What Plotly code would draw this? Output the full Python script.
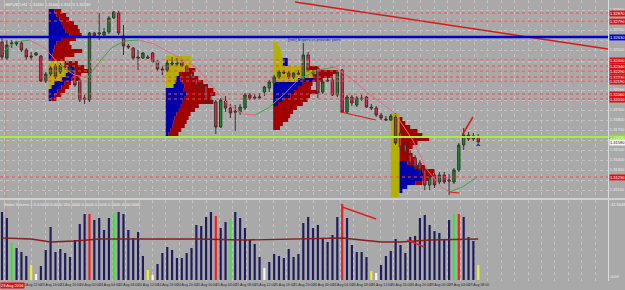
import plotly.graph_objects as go

# ---------------- DATA ----------------
opens = [1.3258,1.3242,1.3256,1.3256,1.3257,1.3250,1.3244,1.3245,1.3244,1.3219,
         1.3226,1.3234,1.3228,1.3234,1.3228,1.3230,1.3220,1.3202,1.3200,1.3267,
         1.3266,1.3265,1.3268,1.3282,1.3287,1.3264,1.3254,1.3252,1.3243,1.3242,
         1.3243,1.3247,1.3239,1.3231,1.3230,1.3237,1.3236,1.3238,1.3234,1.3227,
         1.3221,1.3215,1.3214,1.3200,1.3198,1.3173,1.3199,1.3192,1.3189,1.3188,
         1.3192,1.3205,1.3203,1.3202,1.3208,1.3212,1.3217,1.3223,1.3228,1.3227,
         1.3223,1.3227,1.3220,1.3245,1.3228,1.3232,1.3208,1.3220,1.3220,1.3205,
         1.3230,1.3188,1.3203,1.3195,1.3202,1.3203,1.3193,1.3192,1.3185,1.3181,
         1.3180,1.3183,1.3167,1.3155,1.3145,1.3142,1.3137,1.3130,1.3115,1.3125,
         1.3118,1.3125,1.3120,1.3118,1.3130,1.3155,1.3165,1.3164,1.3163]
highs = [1.3262,1.3260,1.3260,1.3259,1.3259,1.3252,1.3248,1.3248,1.3245,1.3228,
         1.3234,1.3236,1.3237,1.3237,1.3234,1.3232,1.3222,1.3205,1.3268,1.3268,
         1.3287,1.3272,1.3284,1.3289,1.3289,1.3275,1.3256,1.3253,1.3250,1.3248,
         1.3245,1.3248,1.3240,1.3234,1.3240,1.3243,1.3242,1.3240,1.3235,1.3228,
         1.3223,1.3220,1.3216,1.3204,1.3200,1.3202,1.3204,1.3196,1.3195,1.3196,
         1.3207,1.3207,1.3206,1.3207,1.3214,1.3220,1.3225,1.3230,1.3230,1.3229,
         1.3228,1.3230,1.3257,1.3248,1.3230,1.3234,1.3220,1.3222,1.3224,1.3230,
         1.3231,1.3205,1.3205,1.3204,1.3205,1.3204,1.3196,1.3194,1.3187,1.3184,
         1.3186,1.3187,1.3170,1.3158,1.3150,1.3145,1.3140,1.3132,1.3125,1.3127,
         1.3128,1.3128,1.3126,1.3132,1.3157,1.3172,1.3168,1.3167,1.3166]
lows = [1.3240,1.3240,1.3252,1.3254,1.3248,1.3240,1.3240,1.3244,1.3218,1.3217,
        1.3224,1.3221,1.3226,1.3230,1.3226,1.3213,1.3198,1.3196,1.3198,1.3263,
        1.3260,1.3263,1.3266,1.3281,1.3265,1.3245,1.3251,1.3240,1.3230,1.3241,
        1.3241,1.3237,1.3229,1.3225,1.3228,1.3234,1.3234,1.3233,1.3226,1.3220,
        1.3212,1.3207,1.3198,1.3196,1.3166,1.3172,1.3188,1.3182,1.3169,1.3185,
        1.3190,1.3200,1.3200,1.3201,1.3204,1.3208,1.3215,1.3221,1.3226,1.3221,
        1.3221,1.3225,1.3218,1.3228,1.3224,1.3202,1.3206,1.3218,1.3204,1.3203,
        1.3187,1.3187,1.3194,1.3193,1.3199,1.3192,1.3190,1.3183,1.3180,1.3179,
        1.3179,1.3155,1.3150,1.3145,1.3134,1.3130,1.3125,1.3110,1.3110,1.3112,
        1.3116,1.3116,1.3105,1.3116,1.3128,1.3150,1.3159,1.3159,1.3157]
closes = [1.3243,1.3255,1.3257,1.3258,1.3250,1.3243,1.3243,1.3247,1.3219,1.3226,
          1.3232,1.3223,1.3235,1.3233,1.3232,1.3215,1.3200,1.3201,1.3267,1.3264,
          1.3267,1.3268,1.3282,1.3288,1.3267,1.3254,1.3253,1.3242,1.3242,1.3247,
          1.3242,1.3238,1.3231,1.3230,1.3237,1.3236,1.3237,1.3234,1.3228,1.3222,
          1.3215,1.3214,1.3200,1.3199,1.3173,1.3200,1.3192,1.3187,1.3188,1.3193,
          1.3205,1.3202,1.3202,1.3203,1.3213,1.3218,1.3223,1.3228,1.3227,1.3223,
          1.3227,1.3226,1.3245,1.3230,1.3227,1.3207,1.3218,1.3219,1.3205,1.3228,
          1.3188,1.3203,1.3197,1.3202,1.3201,1.3193,1.3192,1.3185,1.3182,1.3180,
          1.3184,1.3157,1.3153,1.3148,1.3137,1.3133,1.3130,1.3115,1.3123,1.3115,
          1.3125,1.3118,1.3119,1.3130,1.3155,1.3165,1.3161,1.3161,1.3158]

volumes = [6800,6200,3700,3200,2800,2400,1500,600,1400,3000,
           5300,2800,3100,2700,2300,4000,5600,6600,6600,6000,
           6200,5000,6200,6700,6800,6600,5000,4200,4800,2400,
           1000,500,1600,2700,3300,3000,2200,2200,2700,3200,
           5500,5400,6300,6800,6400,5200,5800,6100,6800,6200,
           5200,4000,3600,2300,1200,1800,2600,2400,2200,3100,
           2300,2600,5700,6300,5200,5500,4200,3800,4500,6300,
           7600,6200,3500,2800,2800,2300,900,700,1500,2400,
           2900,4100,3500,2700,4300,4400,6200,6500,5500,4900,
           4700,4100,6000,6600,6600,6300,4300,3900,1500]
# Better-Volume class of each bar: n normal, g green, r red, y yellow, w white
vol_class = ['n','n','g','n','n','n','y','w','n','n',
             'n','n','n','n','n','n','n','n','r','n',
             'n','n','n','g','n','n','n','n','n','n',
             'y','w','n','n','n','n','n','n','n','n',
             'n','n','n','n','r','n','n','g','n','n',
             'n','n','n','n','w','n','n','n','n','n',
             'n','n','n','n','n','n','n','n','n','n',
             'r','n','n','n','n','n','y','w','n','n',
             'n','n','n','n','n','n','n','n','n','n',
             'n','n','n','g','r','n','n','n','y']
vol_ma_bar = [0,6,10,15,20,30,40,50,60,65,70,74,78,82,88,98]
vol_ma_val = [4200,4100,3800,3900,4100,4100,4100,4000,4100,4200,4200,4000,3800,3800,4000,4100]

# moving-average curve on price (bar, price)
ma_bar = [0.2,2.7,5.7,8.8,11.9,14.9,17.6,20.0,22.5,25.2,28.2,31.3,35.4,39.9,44.0,46.6,49.7,52.1,
          54.8,57.9,60.9,65.0,68.5,72.2,75.3,80.8,84.5,87.5,90.6,92.0,94.7,97.8]
ma_price = [1.3248,1.3258,1.3260,1.3252,1.3235,1.3225,1.3222,1.3238,1.3252,1.3259,1.3260,1.3256,
            1.3245,1.3233,1.3210,1.3195,1.3186,1.3185,1.3192,1.3205,1.3220,1.3230,1.3233,1.3220,
            1.3207,1.3187,1.3160,1.3130,1.3112,1.3108,1.3113,1.3123]

# volume profiles: start bar, price levels, TPO lengths (bars) per colour
p1_start = 9.6
p1_levels = [1.3289,1.3285,1.3281,1.3277,1.3273,1.3269,1.3265,1.3261,1.3257,1.3253,1.3249,1.3245,
             1.3241,1.3237,1.3233,1.3229,1.3225,1.3221,1.3217,1.3213,1.3209,1.3205,1.3201]
p1_yel = [0,0,0,0,0,0,0,0,0,0,0,0,0,3.3,3.9,3.9,3.5,2.7,1.2,0.6,0,0,0]
p1_blu = [1.2,1.6,2.2,2.7,3.1,3.5,4.3,2.7,1.6,1.2,1.0,0.8,0.6,0,1.4,1.6,1.6,2.0,2.0,2.0,1.8,1.2,0.6]
p1_red = [1.4,2.0,2.0,2.5,2.9,2.9,2.5,2.9,2.7,3.5,5.9,4.5,2.7,2.7,2.0,3.3,1.6,1.6,1.4,1.6,1.6,1.4,1.0]

p2_start = 33.7
p2_levels = [1.3242,1.3238,1.3234,1.3230,1.3226,1.3222,1.3218,1.3214,1.3210,1.3206,1.3202,1.3198,
             1.3194,1.3190,1.3186,1.3182,1.3178,1.3174,1.3170,1.3166]
p2_yel = [5.1,5.3,5.3,4.7,2.7,2.2,2.0,1.6,0,0,0,0,0,0,0,0,0,0,0,0]
p2_blu = [0,0,0,0,0,0.8,1.4,2.2,3.7,4.3,3.9,3.5,3.1,2.7,2.2,1.8,1.6,1.4,1.0,0.6]
p2_red = [0,0,0,1.4,3.1,3.7,4.3,4.9,6.1,5.9,5.3,6.3,3.7,3.3,2.9,2.9,2.7,2.5,2.2,2.0]

p3_start = 55.8
p3_levels = [1.3256,1.3252,1.3248,1.3244,1.3240,1.3236,1.3232,1.3228,1.3224,1.3220,1.3216,1.3212,
             1.3208,1.3204,1.3200,1.3196,1.3192,1.3188,1.3184,1.3180,1.3176,1.3172]
p3_yel = [1.0,1.4,1.6,1.8,2.0,2.0,7.1,8.8,8.2,5.1,0,0,0,0,0,0,0,0,0,0,0,0]
p3_blu = [0,0,0,0,1.0,1.0,0,0,0,3.1,6.1,5.1,4.3,3.5,2.0,1.0,0,0,0,0,0,0]
p3_red = [0,0,0,0,0,0,2.0,4.5,4.1,2.0,2.0,2.7,4.9,4.1,5.1,5.1,4.9,4.1,3.5,3.1,2.0,1.4]

p4_start = 80.0
p4_levels = [1.3185,1.3181,1.3177,1.3173,1.3169,1.3165,1.3161,1.3157,1.3153,1.3149,1.3145,1.3141,
             1.3137,1.3133,1.3129,1.3125,1.3121,1.3117,1.3113,1.3109,1.3105]
p4_yel = [1.8]*20 + [1.6]
p4_blu = [0,0,0,0,0,0,0,0,0,0,0,0,1.6,3.3,4.7,5.3,4.7,3.3,1.6,0.6,0]
p4_red = [0,0.6,1.2,2.2,3.7,4.7,6.1,3.7,2.7,2.0,2.7,3.3,2.0,2.0,2.5,1.6,1.4,1.4,0,0,0]

# horizontal levels
red_levels = [1.3287,1.3279,1.3240,1.3234,1.3229,1.3223,1.3219,1.3206,1.3201,1.3123]
cyan_level = 1.3238
blue_level = 1.3263
green_level = 1.3163
bid_price = closes[-1]

# drawn trend lines (bar, price)
trend_long = ([60.3, 124.7], [1.3298, 1.3251])
trend_a = ([69.7, 76.9], [1.3188, 1.3180])
trend_b = ([92.0, 94.1], [1.3108, 1.3107])
trend_c = ([94.7, 96.9], [1.3165, 1.3183])
vol_trend_a = ([70, 77], [7300, 6100])
vol_trend_b = ([83.4, 86.9], [4000, 3300])
separator_bar = 0.8
arrow_point = (98, 1.3155)

date_ticks = [4,8,12,16,20,24,28,32,36,40,44,48,52,56,60,64,68,72,76,80,84,88,92,96]
date_labels = ['23 Aug 12:00','23 Aug 16:00','23 Aug 20:00','24 Aug 00:00','24 Aug 04:00','24 Aug 08:00',
               '24 Aug 12:00','24 Aug 16:00','24 Aug 20:00','25 Aug 00:00','25 Aug 04:00','25 Aug 08:00',
               '25 Aug 12:00','25 Aug 16:00','25 Aug 20:00','26 Aug 00:00','26 Aug 04:00','26 Aug 08:00',
               '26 Aug 12:00','26 Aug 16:00','26 Aug 20:00','29 Aug 00:00','29 Aug 04:00','29 Aug 08:00']

bars = list(range(len(opens)))

# ---------------- FIGURE ----------------
BG = '#a9a9a9'
GRID = '#c2c2c2'
FONT = 'Liberation Sans'
fig = go.Figure()

# volume profiles as horizontal bars
segs = {'y': ([], [], []), 'b': ([], [], []), 'r': ([], [], [])}
for start, lv, ye, bl, rd in [(p1_start, p1_levels, p1_yel, p1_blu, p1_red),
                              (p2_start, p2_levels, p2_yel, p2_blu, p2_red),
                              (p3_start, p3_levels, p3_yel, p3_blu, p3_red),
                              (p4_start, p4_levels, p4_yel, p4_blu, p4_red)]:
    for p, a, b, c in zip(lv, ye, bl, rd):
        for key, ln, base in (('y', a, start), ('b', b, start + a), ('r', c, start + a + b)):
            if ln > 0:
                segs[key][0].append(p); segs[key][1].append(ln); segs[key][2].append(base)
for key, col in (('y', '#b4b000'), ('b', '#0000a8'), ('r', '#a00000')):
    yy, xx, bb = segs[key]
    fig.add_trace(go.Bar(orientation='h', y=yy, x=xx, base=bb, width=0.0004,
                         marker=dict(color=col, line=dict(width=0)),
                         xaxis='x', yaxis='y', hoverinfo='skip', showlegend=False))

# candles
fig.add_trace(go.Candlestick(x=bars, open=opens, high=highs, low=lows, close=closes,
                             increasing=dict(fillcolor='#1d8a2e', line=dict(color='#2b3b2b', width=1)),
                             decreasing=dict(fillcolor='#e02a50', line=dict(color='#4a2a2a', width=1)),
                             whiskerwidth=0, xaxis='x', yaxis='y', hoverinfo='skip', showlegend=False))

# MA curve, green rising / pink falling
ux, uy, dx, dy = [], [], [], []
for k in range(len(ma_bar) - 1):
    tx, ty = (ux, uy) if ma_price[k + 1] > ma_price[k] else (dx, dy)
    tx += [ma_bar[k], ma_bar[k + 1], None]
    ty += [ma_price[k], ma_price[k + 1], None]
fig.add_trace(go.Scatter(x=ux, y=uy, mode='lines', line=dict(color='#3aa84a', width=1),
                         xaxis='x', yaxis='y', hoverinfo='skip', showlegend=False))
fig.add_trace(go.Scatter(x=dx, y=dy, mode='lines', line=dict(color='#e26a82', width=1),
                         xaxis='x', yaxis='y', hoverinfo='skip', showlegend=False))

for (tx, ty), w in ((trend_long, 1.6), (trend_a, 1.2), (trend_b, 1.2), (trend_c, 1.5)):
    fig.add_trace(go.Scatter(x=tx, y=ty, mode='lines', line=dict(color='#d81818', width=w),
                             xaxis='x', yaxis='y', hoverinfo='skip', showlegend=False))
fig.add_trace(go.Scatter(x=[arrow_point[0]], y=[arrow_point[1]], mode='markers',
                         marker=dict(symbol='triangle-up', size=4, color='#2030d0'),
                         xaxis='x', yaxis='y', hoverinfo='skip', showlegend=False))

# volume panel
cmap = {'n': '#1c1c5e', 'g': '#3ee23e', 'r': '#f02020', 'y': '#eeee30', 'w': '#f6f6f6'}
fig.add_trace(go.Bar(x=bars, y=volumes, width=0.45, marker=dict(color=[cmap[c] for c in vol_class], line=dict(width=0)),
                     xaxis='x2', yaxis='y2', hoverinfo='skip', showlegend=False))
fig.add_trace(go.Scatter(x=vol_ma_bar, y=vol_ma_val, mode='lines', line=dict(color='#8a1c1c', width=1.3),
                         xaxis='x2', yaxis='y2', hoverinfo='skip', showlegend=False))
for tx, ty in (vol_trend_a, vol_trend_b):
    fig.add_trace(go.Scatter(x=tx, y=ty, mode='lines', line=dict(color='#e02020', width=1.5),
                             xaxis='x2', yaxis='y2', hoverinfo='skip', showlegend=False))

# level lines
for lv in red_levels:
    fig.add_shape(type='line', xref='paper', x0=0, x1=1, yref='y', y0=lv, y1=lv,
                  line=dict(color='#e05050', width=1, dash='dot'), layer='above')
fig.add_shape(type='line', xref='paper', x0=0, x1=1, yref='y', y0=cyan_level, y1=cyan_level,
              line=dict(color='#a8d8d8', width=1, dash='dot'), layer='above')
fig.add_shape(type='line', xref='paper', x0=0, x1=1, yref='y', y0=blue_level, y1=blue_level,
              line=dict(color='#0000d0', width=2.5), layer='above')
fig.add_shape(type='line', xref='paper', x0=0, x1=1, yref='y', y0=green_level, y1=green_level,
              line=dict(color='#a8f030', width=2), layer='above')
fig.add_shape(type='line', xref='x', x0=separator_bar, x1=separator_bar, yref='paper', y0=0, y1=1,
              line=dict(color='#e08080', width=1), layer='below')
# panel separator
fig.add_shape(type='line', xref='paper', x0=0, x1=1.03, yref='paper', y0=82 / 281, y1=82 / 281,
              line=dict(color='#dcdcdc', width=1.5), layer='above')

# price labels on the right axis
def plabel(y, bg, fg='#ffffff'):
    fig.add_annotation(xref='paper', x=1.0, xanchor='left', yref='y', y=y, text=f'{y:.5f}',
                       showarrow=False, bgcolor=bg, borderpad=0, xshift=1,
                       font=dict(family=FONT, size=4, color=fg))
for lv in red_levels:
    plabel(lv, '#e01010')
plabel(blue_level, '#0000c8')
plabel(green_level, '#90e020', '#ffffff')
plabel(bid_price, '#f4f4f4', '#202020')

# texts
fig.add_annotation(xref='paper', yref='paper', x=0.003, y=1.0, xanchor='left', yanchor='top', showarrow=False,
                   text='GBPUSD,H1  1.31630 1.31660 1.31570 1.31580', font=dict(family=FONT, size=4, color='#f0f0f0'))
fig.add_annotation(xref='paper', yref='paper', x=0.003, y=81 / 281, xanchor='left', yanchor='top', showarrow=False,
                   text='Better Volume 1.5 0.0000 0.0000 200.0000 0.0000 0.0000 0.0000 4200.0000',
                   font=dict(family=FONT, size=4, color='#f0f0f0'))
fig.add_annotation(xref='x', yref='y', x=58.5, y=1.3261, xanchor='left', showarrow=False,
                   text='[info] Buyers vs provider point', font=dict(family=FONT, size=4, color='#2020c0'))
fig.add_annotation(xref='paper', yref='paper', x=1.0, y=81 / 281, xanchor='left', yanchor='top', showarrow=False,
                   xshift=1, text='41.9448', font=dict(family=FONT, size=4, color='#f0f0f0'))
fig.add_annotation(xref='paper', yref='paper', x=1.0, y=0.0, xanchor='left', yanchor='bottom', showarrow=False,
                   xshift=1, text='0.00', font=dict(family=FONT, size=4, color='#f0f0f0'))
fig.add_annotation(xref='paper', yref='paper', x=0.0, y=0.0, xanchor='left', yanchor='top', showarrow=False,
                   yshift=-1, text='23 Aug 2016', bgcolor='#e01010', borderpad=0,
                   font=dict(family=FONT, size=4, color='#ffffff'))

main_dom = [(281 - 198) / 281, 1.0]
vol_dom = [0.0, (281 - 200) / 281]
fig.update_layout(
    width=625, height=290, margin=dict(l=0, r=13, t=0, b=9),
    paper_bgcolor=BG, plot_bgcolor=BG, barmode='overlay', showlegend=False,
    font=dict(family=FONT, size=4, color='#f0f0f0'),
    xaxis=dict(domain=[0, 1], anchor='y', range=[-0.41, 124.7], showticklabels=False, ticks='',
               showgrid=True, gridcolor=GRID, griddash='dot', gridwidth=1, tick0=0.6, dtick=2.76,
               zeroline=False, rangeslider=dict(visible=False), fixedrange=True),
    yaxis=dict(domain=main_dom, anchor='x', side='right', range=[1.3102, 1.3300], dtick=0.001, tick0=1.3,
               tickformat='.5f', showgrid=True, gridcolor=GRID, griddash='dot', zeroline=False,
               showline=True, linecolor='#dcdcdc', linewidth=1, ticks='',
               tickfont=dict(family=FONT, size=4, color='#eeeeee')),
    xaxis2=dict(domain=[0, 1], anchor='y2', matches='x', tickvals=date_ticks, ticktext=date_labels,
                tickangle=0, ticklabelposition='outside right', ticks='', showgrid=False, zeroline=False,
                tickfont=dict(family=FONT, size=3.5, color='#2a2a2a'),
                minor=dict(tick0=0.6, dtick=2.76, showgrid=True, gridcolor=GRID, griddash='dot', ticks='')),
    yaxis2=dict(domain=vol_dom, anchor='x2', side='right', range=[-100, 8000], showgrid=False,
                showticklabels=False, zeroline=False, showline=True, linecolor='#dcdcdc', ticks=''),
)

fig.write_html('out.html')
